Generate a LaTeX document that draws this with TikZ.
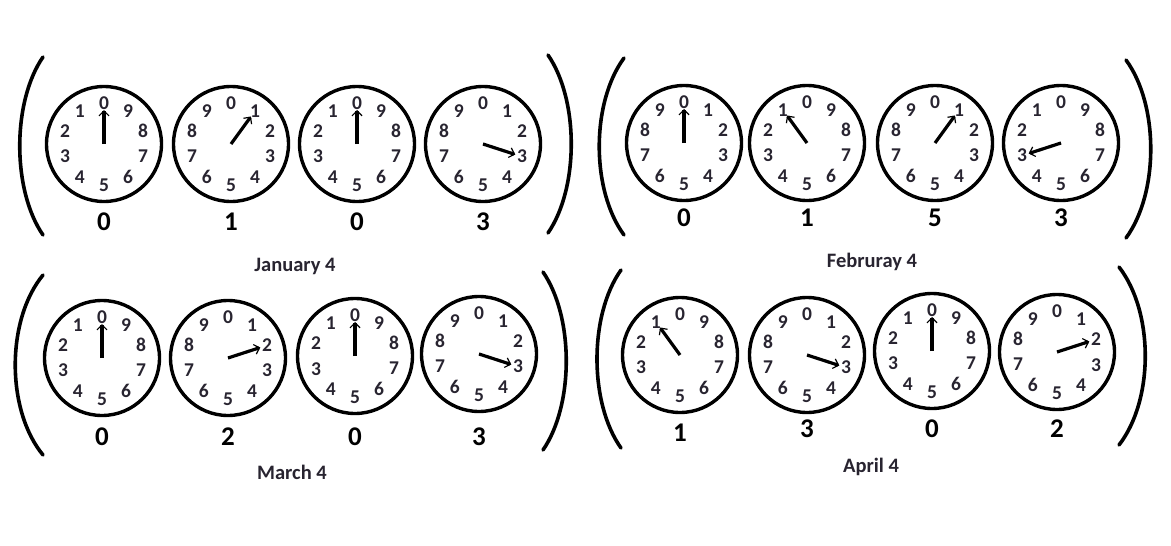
\documentclass[tikz,border=0pt]{standalone}
\usepackage{fontspec}
\setmainfont{Carlito}
\usetikzlibrary{arrows.meta}
\definecolor{ink}{RGB}{40,36,48}

\begin{document}
\begin{tikzpicture}[
  x=1pt,y=1pt,
  face/.style={draw,circle,line width=3.4pt,minimum size=115pt,inner sep=0pt},
  digit/.style={font=\bfseries\fontsize{19.5}{19.5}\selectfont,text=ink,inner sep=0pt},
  value/.style={font=\bfseries\fontsize{27}{27}\selectfont,inner sep=0pt},
  month/.style={font=\bfseries\fontsize{20.5}{20.5}\selectfont,text=ink},
  hand/.style={line width=3.2pt,-{Straight Barb[length=5pt,width=10pt,line width=1.2pt]}},
  paren/.style={line width=3.6pt,line cap=round}
  ]
  \useasboundingbox (0,0) rectangle (1171,-546);

  % clocks: name/x/y/turn/hand/value/value y
  \foreach \n/\x/\y/\s/\p/\v/\ly in {
    ja1/104/144/+/0/0/222, ja2/231/144/-/1/1/222, ja3/357/144/+/0/0/222, ja4/483/144/-/3/3/222,
    fe1/684/143/-/0/0/218, fe2/807/143/+/1/1/218, fe3/935/143/-/1/5/218, fe4/1061/143/+/3/3/218,
    ma1/102/358/+/0/0/437, ma2/228/358/-/2/2/437, ma3/355/356/+/0/0/437, ma4/479/354/-/3/3/437,
    ap1/680/355/+/1/1/433, ap2/807/355/-/3/3/429, ap3/932/351/+/0/0/429, ap4/1057/352/-/2/2/429}
  {
    \node[face] (\n) at (\x,-\y) {};
    \foreach \k in {0,...,9}
      \path (\n.center) ++(90\s36*\k:41) node[digit] {\k};
    \draw[hand] (\n.center) -- ++(90\s36*\p:34);
    \node[value] (\n v) at (\x,-\ly) {\v};
  }

  % brackets: end x/top/bottom/control x
  \foreach \xe/\ya/\yb/\xc in {
    43/57/235/12, 548/55/233/579, 624/58/235/591, 1126/60/238/1159,
    43/275/455/6, 543/272/450/574, 621/270/448/589, 1119/267/445/1154}
    \draw[paren] (\xe,-\ya) .. controls (\xc,-\ya-45) and (\xc,-\yb+45) .. (\xe,-\yb);

  \node[month] (jan) at (295,-266) {January 4};
  \node[month] (feb) at (872,-262) {Februray 4};
  \node[month] (mar) at (292,-472) {March 4};
  \node[month] (apr) at (871,-467) {April 4};
\end{tikzpicture}
\end{document}
